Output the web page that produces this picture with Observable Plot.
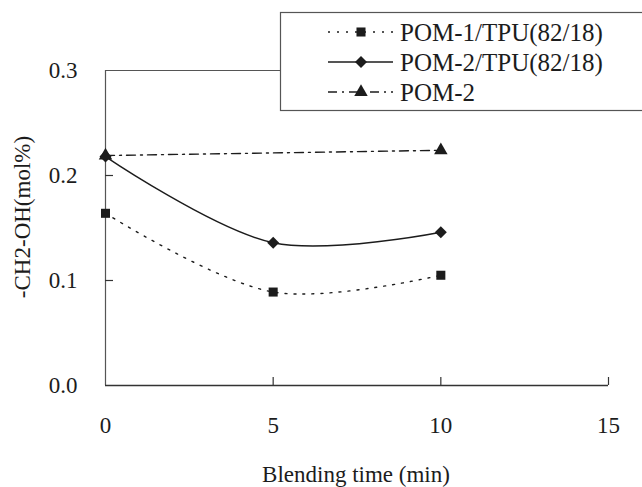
<!DOCTYPE html>
<html><head><meta charset="utf-8">
<script src="https://cdn.jsdelivr.net/npm/d3@7"></script>
<script src="https://cdn.jsdelivr.net/npm/@observablehq/plot@0.6"></script>
<style>body{margin:0;background:#fff} svg{display:block}</style>
</head><body><div id="chart"></div>
<script>
// ---- data ----
const times = [0, 5, 10];
const pom1Tpu = [0.164, 0.089, 0.105];
const pom2Tpu = [0.218, 0.136, 0.146];
const pom2Times = [0, 10];
const pom2 = [0.219, 0.224];
const seriesNames = ["POM-1/TPU(82/18)", "POM-2/TPU(82/18)", "POM-2"];
const xTicks = [0, 5, 10, 15];
const yTicks = [0, 0.1, 0.2, 0.3];
const xLabel = "Blending time (min)";
const yLabel = "-CH2-OH(mol%)";

// ---- styles ----
const styles = {
  "POM-1/TPU(82/18)": {dash: "2,7", symbol: "square", r: 5.1},
  "POM-2/TPU(82/18)": {dash: null, symbol: "diamond2", r: 5.4},
  "POM-2": {dash: "9,5,2,5", symbol: "triangle", r: 5.0}
};

const rows = [
  ...times.map((t, i) => ({series: seriesNames[0], t, v: pom1Tpu[i]})),
  ...times.map((t, i) => ({series: seriesNames[1], t, v: pom2Tpu[i]})),
  ...pom2Times.map((t, i) => ({series: seriesNames[2], t, v: pom2[i]}))
];

const ink = "#1c1c1c";
const font = "'Liberation Serif', 'Times New Roman', serif";
const marks = [
  Plot.ruleY([0.3], {stroke: "#555", strokeWidth: 1.2}),
  Plot.ruleX([0], {stroke: "#555", strokeWidth: 1.2}),
  Plot.ruleY([0], {stroke: "#333", strokeWidth: 1.5}),
  Plot.tickX(xTicks.slice(1), {x: d => d, insetTop: 307, stroke: "#333", strokeWidth: 1.2}),
  Plot.tickY(yTicks.slice(1, 3), {y: d => d, insetRight: 495, stroke: "#333", strokeWidth: 1.2}),
  Plot.axisX(xTicks, {tickSize: 0, tickPadding: 31, label: null, tickFormat: d => String(d), fill: ink}),
  Plot.axisY(yTicks, {tickSize: 0, tickPadding: 28, label: null, tickFormat: d3.format(".1f"), fill: ink})
];
for (const name of seriesNames) {
  const s = styles[name];
  const data = rows.filter(d => d.series === name);
  marks.push(Plot.line(data, {x: "t", y: "v", curve: "catmull-rom", stroke: ink, strokeWidth: 1.4, strokeDasharray: s.dash}));
}
for (const name of seriesNames) {
  const s = styles[name];
  const data = rows.filter(d => d.series === name);
  marks.push(Plot.dot(data, {x: "t", y: "v", symbol: () => s.symbol, r: s.r, fill: ink, stroke: "none"}));
}

const plot = Plot.plot({
  width: 642, height: 487,
  marginLeft: 105, marginRight: 34, marginTop: 70, marginBottom: 102,
  style: {fontFamily: font, fontSize: "23px", color: ink, background: "#fff", overflow: "visible"},
  x: {domain: [0, 15]},
  y: {domain: [0, 0.3]},
  marks
});

const svg = d3.select(plot);
// axis titles
svg.append("text").text(yLabel)
  .attr("transform", "translate(22,217) rotate(-90)")
  .attr("text-anchor", "middle").attr("dy", "0.35em")
  .style("font-size", "23px").style("font-family", font).attr("fill", ink);
svg.append("text").text(xLabel)
  .attr("x", 356).attr("y", 482)
  .attr("text-anchor", "middle")
  .style("font-size", "23px").style("font-family", font).attr("fill", ink);

// legend
const lg = svg.append("g");
lg.append("rect").attr("x", 280.5).attr("y", 12.5).attr("width", 400).attr("height", 98)
  .attr("fill", "#fff").attr("stroke", "#555").attr("stroke-width", 1.2);
seriesNames.forEach((name, i) => {
  const s = styles[name];
  const y = 32 + i * 30;
  lg.append("line").attr("x1", 328).attr("x2", 393).attr("y1", y).attr("y2", y)
    .attr("stroke", ink).attr("stroke-width", 1.4).attr("stroke-dasharray", s.dash);
  const sym = {square: d3.symbolSquare, diamond2: d3.symbolDiamond2, triangle: d3.symbolTriangle}[s.symbol];
  lg.append("path").attr("d", d3.symbol(sym, Math.PI * s.r * s.r)())
    .attr("transform", `translate(361,${y})`).attr("fill", ink);
  lg.append("text").text(name).attr("x", 400).attr("y", y).attr("dy", "0.35em")
    .attr("text-anchor", "start")
    .style("font-size", "25px").style("font-family", font).attr("fill", ink);
});

document.getElementById("chart").appendChild(plot);
</script>
</body></html>
